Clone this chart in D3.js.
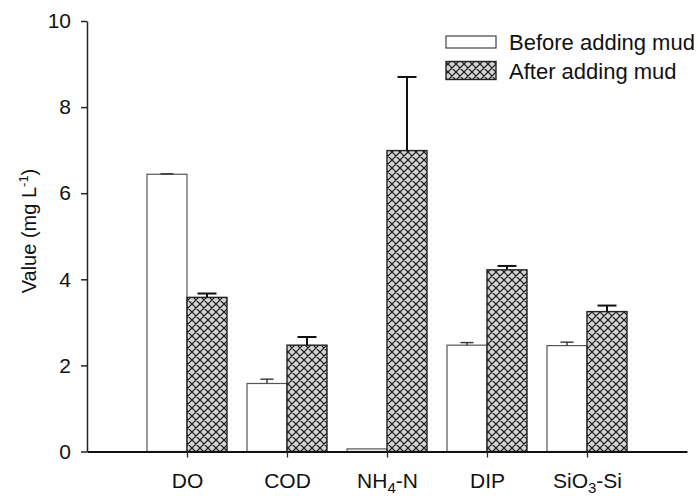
<!DOCTYPE html>
<html lang="en">
  <head>
    <meta charset="utf-8">
    <title>Before / after adding mud</title>
    <script src="https://d3js.org/d3.v7.min.js"></script>
    <style>
      body { margin: 0; background: #fff; }
      text { font-family: "Liberation Sans", Arial, sans-serif; fill: #111; }
    </style>
  </head>
  <body>
    <svg id="chart"></svg>
    <script>
    // values
    var categories = ["DO", "COD", "NH4-N", "DIP", "SiO3-Si"];
    var before = [6.44, 1.58, 0.06, 2.47, 2.46];
    var beforeErr = [0.01, 0.10, 0, 0.06, 0.08];
    var after = [3.58, 2.47, 6.99, 4.22, 3.25];
    var afterErr = [0.09, 0.19, 1.71, 0.09, 0.14];
    var yTicks = [0, 2, 4, 6, 8, 10];
    var seriesNames = ["Before adding mud", "After adding mud"];

    var W = 698, H = 496;
    var svg = d3.select("#chart").attr("width", W).attr("height", H);

    // hatch for the "after" bars
    var pat = svg.append("defs").append("pattern")
        .attr("id", "hatch")
        .attr("patternUnits", "userSpaceOnUse")
        .attr("width", 8).attr("height", 8);
    pat.append("rect").attr("width", 8).attr("height", 8).attr("fill", "#d4d4d4");
    pat.append("path")
        .attr("d", "M0,0L8,8M8,0L0,8M-1,7L1,9M7,-1L9,1M-1,1L1,-1M7,9L9,7")
        .attr("stroke", "#111").attr("stroke-width", 1.2);

    var x = d3.scaleLinear().domain([0, 6]).range([87, 687]);
    var y = d3.scaleLinear().domain([0, 10]).range([451.5, 21]);
    var half = 0.4;

    var bars = svg.append("g");
    var cats = d3.range(categories.length);

    // before bars
    bars.selectAll("rect.before")
        .data(cats)
        .enter().append("rect")
        .attr("class", "before")
        .attr("x", function(i) { return x(i + 1 - half); })
        .attr("y", function(i) { return y(before[i]); })
        .attr("width", x(half) - x(0))
        .attr("height", function(i) { return y(0) - y(before[i]); })
        .attr("fill", "#fff")
        .attr("stroke", "#555")
        .attr("stroke-width", 1.2);

    // after bars
    bars.selectAll("rect.after")
        .data(cats)
        .enter().append("rect")
        .attr("class", "after")
        .attr("x", function(i) { return x(i + 1); })
        .attr("y", function(i) { return y(after[i]); })
        .attr("width", x(half) - x(0))
        .attr("height", function(i) { return y(0) - y(after[i]); })
        .attr("fill", "url(#hatch)")
        .attr("stroke", "#222")
        .attr("stroke-width", 1.4);

    // error bars (upper only)
    function errBars(vals, errs, offset, color, sw, cap) {
        var g = svg.append("g").attr("stroke", color).attr("stroke-width", sw);
        cats.forEach(function(i) {
            if (!errs[i]) return;
            var cx = x(i + 1 + offset);
            g.append("line")
                .attr("x1", cx).attr("x2", cx)
                .attr("y1", y(vals[i])).attr("y2", y(vals[i] + errs[i]));
            g.append("line")
                .attr("x1", cx - cap / 2).attr("x2", cx + cap / 2)
                .attr("y1", y(vals[i] + errs[i])).attr("y2", y(vals[i] + errs[i]));
        });
    }
    errBars(before, beforeErr, -half / 2, "#333", 1.4, 13);
    errBars(after, afterErr, half / 2, "#111", 2, 19);

    // axes
    var yAxis = svg.append("g")
        .attr("transform", "translate(" + x(0) + ",0)")
        .call(d3.axisLeft(y).tickValues(yTicks).tickSize(6).tickSizeOuter(0).tickPadding(10));
    yAxis.selectAll("path, line").attr("stroke", "#222").attr("stroke-width", 1.5);
    yAxis.selectAll("text").style("font-size", "21px").attr("fill", "#111");

    var xAxis = svg.append("g")
        .attr("transform", "translate(0," + y(0) + ")")
        .call(d3.axisBottom(x).tickValues(cats.map(function(i) { return i + 1; }))
            .tickSize(6).tickSizeOuter(0).tickPadding(16)
            .tickFormat(function(d) { return categories[d - 1]; }));
    xAxis.select("path.domain").attr("stroke", "#111").attr("stroke-width", 2);
    xAxis.selectAll(".tick line").attr("stroke", "#222").attr("stroke-width", 1.3);
    xAxis.selectAll("text").style("font-size", "21px").attr("fill", "#111")
        .each(function(d) {
            var parts = categories[d - 1].split(/(\d)/);
            if (parts.length < 2) return;
            var t = d3.select(this).text(null);
            parts.forEach(function(p) {
                if (!p) return;
                var sub = /^\d$/.test(p);
                t.append("tspan")
                    .text(p)
                    .style("font-size", sub ? "15px" : "21px")
                    .attr("baseline-shift", sub ? "-30%" : null);
            });
        });

    // y title
    var yt = svg.append("text")
        .attr("transform", "translate(36,231) rotate(-90)")
        .attr("text-anchor", "middle")
        .style("font-size", "20px");
    yt.append("tspan").text("Value (mg L");
    yt.append("tspan").text("-1").style("font-size", "13px").attr("baseline-shift", "60%");
    yt.append("tspan").text(")");

    // legend
    var lg = svg.append("g");
    lg.append("rect").attr("x", 446).attr("y", 36).attr("width", 50).attr("height", 12)
        .attr("fill", "#fff").attr("stroke", "#444").attr("stroke-width", 1.2);
    lg.append("rect").attr("x", 446).attr("y", 61.5).attr("width", 50).attr("height", 18)
        .attr("fill", "url(#hatch)").attr("stroke", "#222").attr("stroke-width", 1.4);
    lg.selectAll("text.leg")
        .data(seriesNames)
        .enter().append("text")
        .attr("class", "leg")
        .attr("x", 509)
        .attr("y", function(d, i) { return i === 0 ? 49.5 : 78.5; })
        .style("font-size", "22px")
        .text(function(d) { return d; });
    </script>
  </body>
</html>
